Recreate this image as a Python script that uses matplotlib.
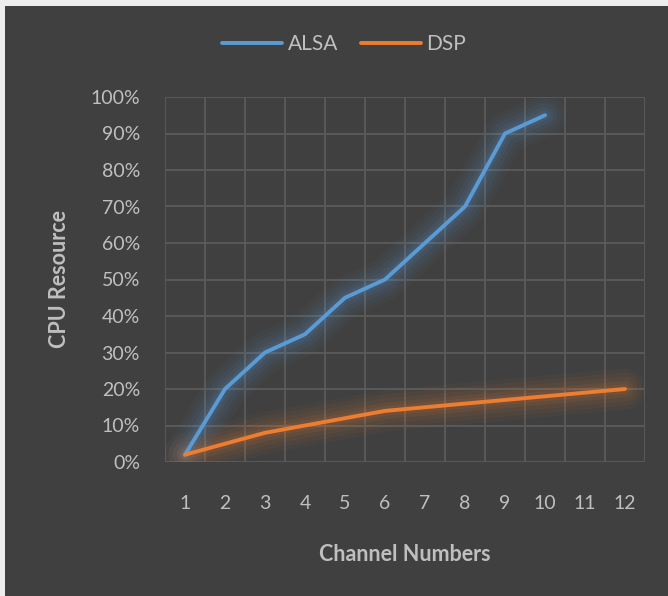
import matplotlib
matplotlib.use("Agg")
import matplotlib.pyplot as plt
from matplotlib.patches import Rectangle
from matplotlib.ticker import FuncFormatter, MultipleLocator

channels = [1, 2, 3, 4, 5, 6, 7, 8, 9, 10, 11, 12]
alsa_x = [1, 2, 3, 4, 5, 6, 7, 8, 9, 10]
alsa = [0.02, 0.20, 0.30, 0.35, 0.45, 0.50, 0.60, 0.70, 0.90, 0.95]
dsp_x = [1, 2, 3, 4, 5, 6, 7, 8, 9, 10, 11, 12]
dsp = [0.02, 0.05, 0.08, 0.10, 0.12, 0.14, 0.15, 0.16, 0.17, 0.18, 0.19, 0.20]

plt.rcParams['font.family'] = ['Lato', 'DejaVu Sans']
txt = '#BFBFBF'
bg = '#404040'
blue = '#5B9BD5'
orange = '#ED7D31'

W, H = 668, 596
fig = plt.figure(figsize=(W / 100, H / 100), dpi=100)
fig.patch.set_facecolor('#EDEDED')
fig.patches.append(Rectangle((5 / W, 0), 1, 1 - 6 / H, transform=fig.transFigure,
                             facecolor=bg, edgecolor='none', zorder=-10))

ax = fig.add_axes([165 / W, 1 - 462 / H, 480 / W, 365 / H])
ax.set_zorder(2)
ax.set_facecolor(bg)
for s in ax.spines.values():
    s.set_visible(False)

ax.set_xlim(0.5, 12.5)
ax.set_ylim(0, 1)
ax.yaxis.set_major_locator(MultipleLocator(0.1))
ax.yaxis.set_major_formatter(FuncFormatter(lambda v, p: f"{int(round(v * 100))}%"))
ax.set_xticks(channels)
ax.set_xticks([c - 0.5 for c in channels] + [12.5], minor=True)
ax.grid(True, which='major', axis='y', color='#595959', linewidth=1.4)
ax.grid(True, which='minor', axis='x', color='#595959', linewidth=1.4)
ax.tick_params(axis='both', which='both', length=0, colors=txt, labelsize=14)
ax.tick_params(axis='x', pad=24)
ax.tick_params(axis='y', pad=18)

# glow effect
for lw, a in [(30, 0.04), (24, 0.05), (18, 0.06), (12, 0.08), (7, 0.10)]:
    ax.plot(alsa_x, alsa, color=blue, linewidth=lw, alpha=a, solid_capstyle='round',
            solid_joinstyle='round', zorder=3)
    ax.plot(dsp_x, dsp, color=orange, linewidth=lw, alpha=a, solid_capstyle='round',
            solid_joinstyle='round', zorder=3)
ax.plot(alsa_x, alsa, color=blue, linewidth=2.8, solid_capstyle='round',
        solid_joinstyle='round', zorder=5, label='ALSA')
ax.plot(dsp_x, dsp, color=orange, linewidth=2.8, solid_capstyle='round',
        solid_joinstyle='round', zorder=5, label='DSP')

ax.set_xlabel('Channel Numbers', color=txt, fontsize=15.5, fontweight='bold', labelpad=23)
ax.set_ylabel('CPU Resource', color=txt, fontsize=15.5, fontweight='bold', labelpad=15)

leg = fig.legend(loc='center', bbox_to_anchor=(0.515, 1 - 44 / H), ncol=2, frameon=False,
                 fontsize=15, labelcolor=txt, handlelength=2.9, handletextpad=0.25,
                 columnspacing=1.1)

fig.savefig('out.png', dpi=100, facecolor=fig.get_facecolor())
